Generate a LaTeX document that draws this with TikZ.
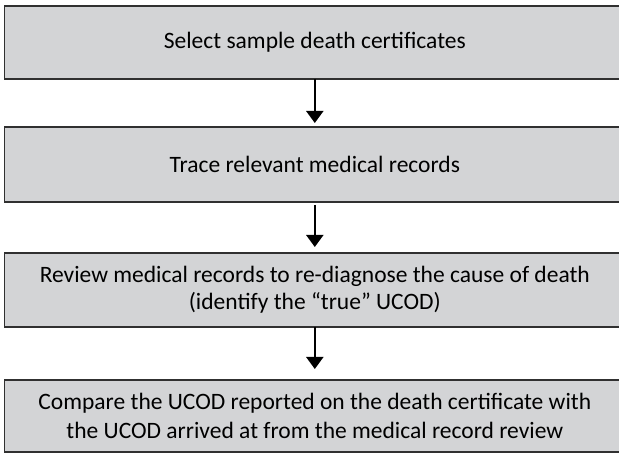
\documentclass[tikz,border=0pt]{standalone}
\usepackage{fontspec}
\setmainfont{Carlito}
\usetikzlibrary{arrows.meta, positioning}
\definecolor{boxgray}{HTML}{D3D4D6}
\definecolor{edgegray}{HTML}{303030}

\begin{document}
\begin{tikzpicture}[
    x=1pt, y=1pt,
    box/.style={draw=edgegray, line width=1.3pt, fill=boxgray, minimum width=620pt, minimum height=74pt, outer sep=0pt, font=\fontsize{23.5}{27}\selectfont, align=center, inner sep=2pt},
    arr/.style={-{Triangle[length=12pt, width=17pt]}, line width=2pt},
]
\useasboundingbox (0,0) rectangle (619,-454);

\node[box, minimum height=73pt, anchor=north] (s1) at (314.8,-6) {Select sample death certificates};
\node[box, minimum height=75pt, below=48pt of s1] (s2) {Trace relevant medical records};
\node[box, below=51pt of s2] (s3) {Review medical records to re-diagnose the cause of death\\(identify the ``true'' UCOD)};
\node[box, minimum height=72pt, below=53pt of s3, font=\fontsize{23.5}{29}\selectfont] (s4) {Compare the UCOD reported on the death certificate with\\the UCOD arrived at from the medical record review};

\foreach \a/\b/\s/\e in {s1/s2/0/4, s2/s3/3/6, s3/s4/0/11} {
    \draw[arr, shorten <=\s pt, shorten >=\e pt] (\a) -- (\b);
}

\end{tikzpicture}
\end{document}
